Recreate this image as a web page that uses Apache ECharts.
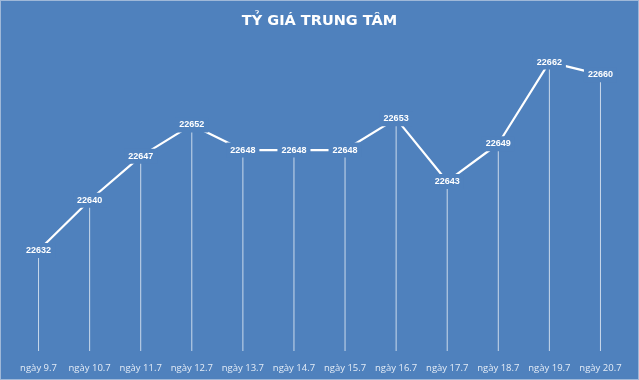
<!DOCTYPE html>
<html>
<head>
<meta charset="utf-8">
<script src="https://cdn.jsdelivr.net/npm/echarts@6/dist/echarts.min.js"></script>
<style>
html,body{margin:0;padding:0;background:#4f81bd;}
#c{width:639px;height:380px;box-sizing:border-box;border:1px solid #9fb8d8;}
</style>
</head>
<body>
<div id="c"></div>
<script>
const categories = ['ngày 9.7','ngày 10.7','ngày 11.7','ngày 12.7','ngày 13.7','ngày 14.7','ngày 15.7','ngày 16.7','ngày 17.7','ngày 18.7','ngày 19.7','ngày 20.7'];
const rates = [22632,22640,22647,22652,22648,22648,22648,22653,22643,22649,22662,22660];
const chartTitle = 'TỶ GIÁ TRUNG TÂM';

const chart = echarts.init(document.getElementById('c'), null, {renderer:'canvas'});
chart.setOption({
  backgroundColor: '#4f81bd',
  animation: false,
  title: {
    text: chartTitle, left: 'center', top: 8,
    textStyle: {color:'#ffffff', fontSize:14.5, fontWeight:'bold', fontFamily:'DejaVu Sans, sans-serif'}
  },
  grid: {left: 12, right: 12, top: 36, bottom: 28},
  xAxis: {
    type: 'category', data: categories, boundaryGap: true,
    axisLine: {show:false}, axisTick: {show:false}, splitLine: {show:false},
    axisLabel: {color:'#e4ecf6', fontSize:9.5, margin:12, fontFamily:'Open Sans, Liberation Sans, sans-serif', interval:0}
  },
  yAxis: {
    type: 'value', min: 22616, max: 22666, show: false,
    splitLine: {show:false}
  },
  series: [
    {
      type: 'bar', data: rates, barWidth: 1,
      itemStyle: {color: 'rgba(255,255,255,0.7)'},
      silent: true, z: 1
    },
    {
      type: 'line', data: rates, symbol: 'circle', symbolSize: 1, showSymbol: true,
      itemStyle: {color:'rgba(255,255,255,0)'},
      lineStyle: {color:'#ffffff', width:2.2},
      z: 3,
      label: {
        show: true, position: 'inside', color:'#ffffff', fontSize:9, fontWeight:'bold',
        fontFamily:'Liberation Sans, Arial, sans-serif',
        backgroundColor:'#4f81bd', padding:[3,4,3,4]
      }
    }
  ]
});
</script>
</body>
</html>
